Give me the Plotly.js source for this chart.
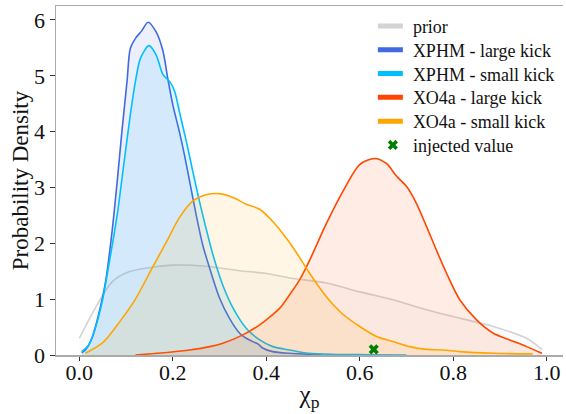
<!DOCTYPE html>
<html>
<head>
<meta charset="utf-8">
<script src="https://cdn.plot.ly/plotly-3.0.1.min.js"></script>
<style>
  html, body { margin: 0; padding: 0; background: #fff; }
  #chart { width: 566px; height: 414px; }
</style>
</head>
<body>
<div id="chart"></div>
<script>
// Posterior densities of chi_p for each waveform model / kick size, plus the prior.
const priorX = [0.0, 0.034, 0.07, 0.106, 0.156, 0.20, 0.271, 0.343, 0.40, 0.45, 0.529, 0.60, 0.671, 0.743, 0.814, 0.886, 0.957, 0.99];
const priorY = [0.30, 0.84, 1.31, 1.49, 1.57, 1.61, 1.59, 1.51, 1.46, 1.38, 1.29, 1.13, 0.99, 0.81, 0.66, 0.51, 0.30, 0.10];

const xphmLargeX = [0.005, 0.013, 0.027, 0.041, 0.056, 0.070, 0.081, 0.091, 0.102, 0.109, 0.120, 0.133, 0.147, 0.164, 0.179, 0.189, 0.200, 0.214, 0.225, 0.236, 0.250, 0.264, 0.279, 0.300, 0.321, 0.343, 0.357, 0.371, 0.382, 0.393, 0.414, 0.45, 0.52];
const xphmLargeY = [0.04, 0.09, 0.30, 0.72, 1.31, 2.21, 3.11, 4.00, 4.90, 5.49, 5.67, 5.80, 5.96, 5.79, 5.44, 4.96, 4.48, 4.00, 3.58, 3.11, 2.51, 1.97, 1.55, 1.02, 0.66, 0.39, 0.30, 0.24, 0.20, 0.12, 0.06, 0.03, 0.005];

const xphmSmallX = [0.005, 0.020, 0.034, 0.049, 0.063, 0.081, 0.095, 0.109, 0.120, 0.131, 0.149, 0.164, 0.179, 0.193, 0.204, 0.214, 0.229, 0.243, 0.257, 0.271, 0.286, 0.307, 0.329, 0.357, 0.386, 0.414, 0.45, 0.49, 0.55, 0.62, 0.70];
const xphmSmallY = [0.06, 0.18, 0.48, 0.96, 1.61, 2.51, 3.41, 4.30, 4.90, 5.32, 5.54, 5.38, 5.02, 4.90, 4.72, 4.36, 3.82, 3.28, 2.75, 2.27, 1.79, 1.25, 0.84, 0.48, 0.27, 0.15, 0.09, 0.03, 0.01, 0.005, 0.0];

const xo4aLargeX = [0.12, 0.193, 0.236, 0.279, 0.307, 0.35, 0.386, 0.40, 0.429, 0.45, 0.471, 0.493, 0.529, 0.564, 0.60, 0.632, 0.657, 0.679, 0.70, 0.721, 0.743, 0.764, 0.786, 0.814, 0.85, 0.886, 0.921, 0.957, 0.99];
const xo4aLargeY = [0.0, 0.05, 0.09, 0.15, 0.21, 0.36, 0.54, 0.63, 0.84, 1.08, 1.34, 1.70, 2.36, 2.93, 3.41, 3.52, 3.43, 3.20, 3.02, 2.72, 2.30, 1.88, 1.46, 0.99, 0.63, 0.39, 0.27, 0.15, 0.03];

const xo4aSmallX = [0.013, 0.05, 0.085, 0.12, 0.157, 0.186, 0.214, 0.243, 0.271, 0.30, 0.329, 0.357, 0.386, 0.414, 0.443, 0.464, 0.493, 0.529, 0.564, 0.60, 0.636, 0.671, 0.707, 0.743, 0.779, 0.814, 0.886, 0.97];
const xo4aSmallY = [0.03, 0.22, 0.58, 1.0, 1.58, 2.02, 2.46, 2.76, 2.87, 2.89, 2.82, 2.70, 2.61, 2.39, 2.09, 1.84, 1.46, 1.04, 0.73, 0.51, 0.33, 0.24, 0.15, 0.10, 0.09, 0.06, 0.03, 0.02];

const injectedX = [0.63];
const injectedY = [0.10];

const seriesNames = ['prior', 'XPHM - large kick', 'XPHM - small kick', 'XO4a - large kick', 'XO4a - small kick'];
const seriesColors = ['#d3d3d3', '#4169e1', '#00bfff', '#ff4500', '#ffa500'];
const seriesX = [priorX, xphmLargeX, xphmSmallX, xo4aLargeX, xo4aSmallX];
const seriesY = [priorY, xphmLargeY, xphmSmallY, xo4aLargeY, xo4aSmallY];

const FONT = '"Liberation Serif", "Times New Roman", serif';

function rgba(hex, a) {
  const n = parseInt(hex.slice(1), 16);
  return `rgba(${(n >> 16) & 255},${(n >> 8) & 255},${n & 255},${a})`;
}

const traces = [];
// density curves with translucent fill down to zero
seriesNames.forEach((name, i) => {
  traces.push({
    x: seriesX[i], y: seriesY[i], type: 'scatter', mode: 'lines',
    line: { color: seriesColors[i], width: 1.6, shape: 'spline', smoothing: 0.8 },
    fill: 'tozeroy', fillcolor: rgba(seriesColors[i], 0.1),
    showlegend: false, hoverinfo: 'skip'
  });
});
// legend entries drawn as thick bars
seriesNames.forEach((name, i) => {
  traces.push({
    x: [null], y: [null], type: 'scatter', mode: 'lines', name: name,
    line: { color: seriesColors[i], width: 5 }
  });
});
traces.push({
  x: injectedX, y: injectedY, type: 'scatter', mode: 'markers', name: 'injected value',
  marker: { symbol: 'x', size: 9, color: '#008000' }
});

const layout = {
  width: 566, height: 414,
  margin: { l: 56, r: 3, t: 6, b: 59 },
  paper_bgcolor: '#ffffff', plot_bgcolor: '#ffffff',
  font: { family: FONT, color: '#111', size: 18 },
  showlegend: true,
  legend: {
    x: 0.625, y: 0.995, xanchor: 'left', yanchor: 'top',
    bgcolor: 'rgba(0,0,0,0)', borderwidth: 0,
    font: { family: FONT, size: 18, color: '#111' }
  },
  xaxis: {
    range: [-0.05, 1.035],
    tickvals: [0, 0.2, 0.4, 0.6, 0.8, 1.0], tickformat: '.1f',
    ticks: 'outside', ticklen: 4, tickwidth: 1, tickcolor: '#333',
    ticklabelstandoff: -7,
    showline: true, linecolor: '#aaaaaa', linewidth: 1.5, mirror: true,
    showgrid: false, zeroline: false,
    tickfont: { family: FONT, size: 22, color: '#111' },
    title: { text: 'χ<sub>p</sub>', font: { family: FONT, size: 25, color: '#111' } }
  },
  yaxis: {
    range: [0, 6.25],
    tickvals: [0, 1, 2, 3, 4, 5, 6],
    ticks: 'outside', ticklen: 5, tickwidth: 1, tickcolor: '#333',
    showline: true, linecolor: '#aaaaaa', linewidth: 1.5, mirror: false,
    showgrid: false, zeroline: false,
    tickfont: { family: FONT, size: 22, color: '#111' },
    title: { text: 'Probability Density', font: { family: FONT, size: 23, color: '#111' } }
  }
};

Plotly.newPlot('chart', traces, layout, { staticPlot: true, displayModeBar: false }).then(gd => {
  // legend: shorter bars and a fixed row pitch
  const rows = gd.querySelectorAll('.legend .traces');
  rows.forEach((g, i) => {
    const m = /translate\(([-\d.]+)[ ,]+([-\d.]+)\)/.exec(g.getAttribute('transform') || '');
    const x0 = m ? parseFloat(m[1]) : 0;
    const y0 = i === 0 && m ? parseFloat(m[2]) : null;
    if (i === 0) g.dataset.y0 = y0;
    const first = parseFloat(rows[0].dataset.y0 || 0);
    g.setAttribute('transform', `translate(${x0},${first + i * 23.8})`);
  });
  gd.querySelectorAll('.legend .traces path.js-line').forEach(p => p.setAttribute('d', 'M5,0h25'));
  // bring the axis titles a little closer to their tick labels
  const yt = gd.querySelector('.ytitle');
  if (yt) yt.setAttribute('transform', 'translate(8,0) ' + (yt.getAttribute('transform') || ''));
  const xt = gd.querySelector('.xtitle');
  if (xt) xt.setAttribute('transform', 'translate(0,-2) ' + (xt.getAttribute('transform') || ''));
});
</script>
</body>
</html>
